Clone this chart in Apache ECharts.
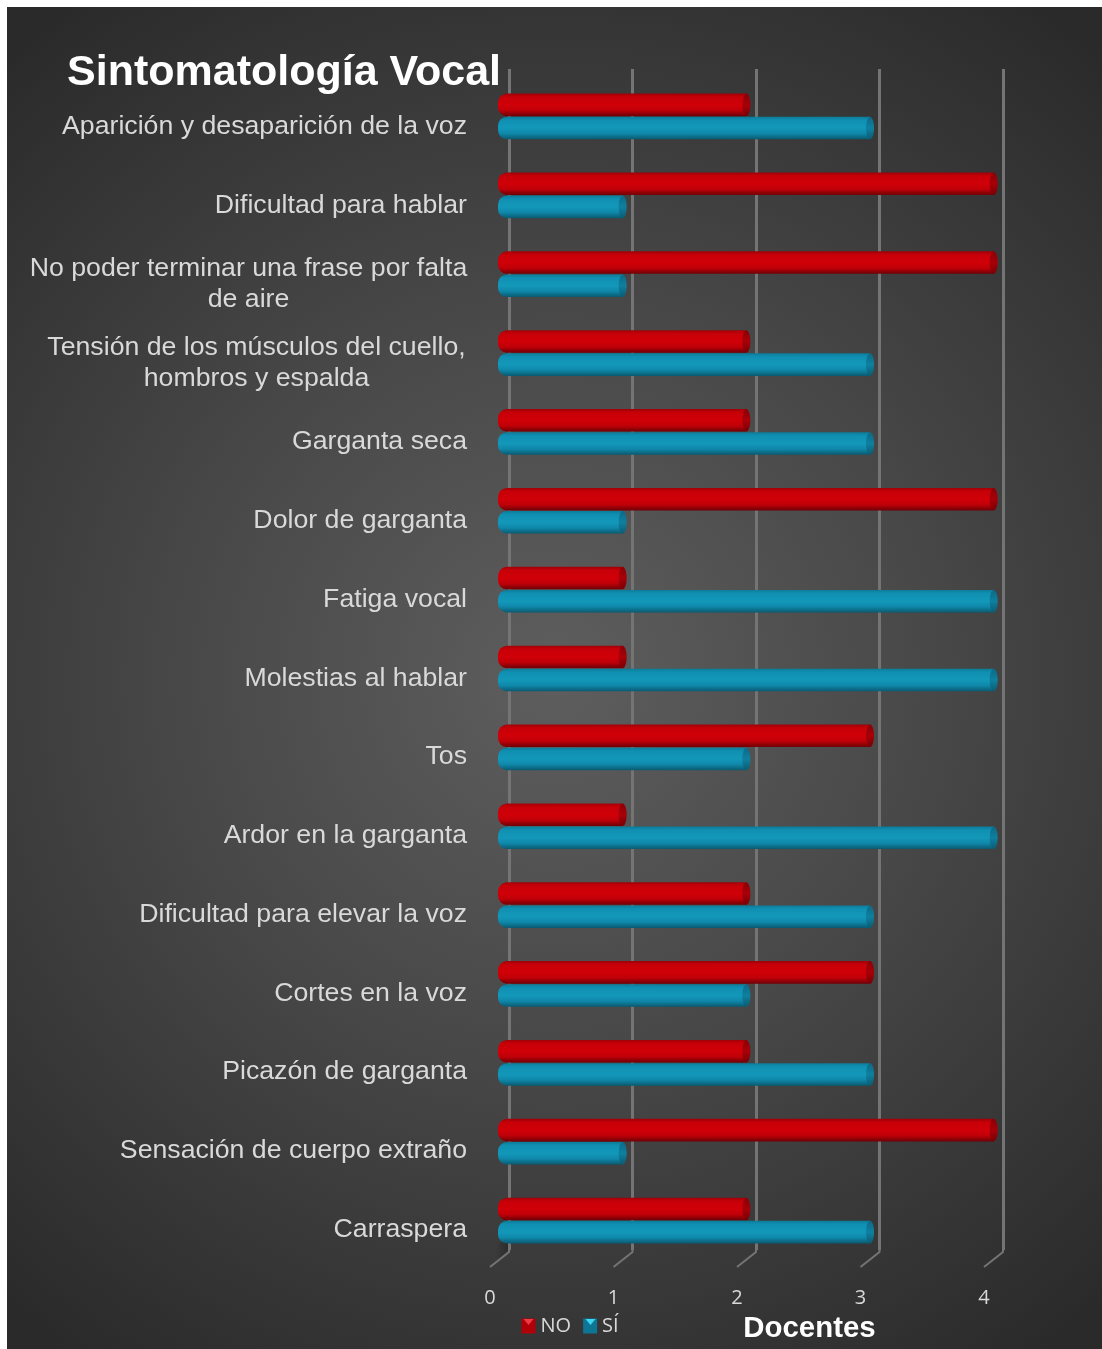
<!DOCTYPE html>
<html>
<head>
<meta charset="utf-8">
<title>Sintomatología Vocal</title>
<style>html,body{margin:0;padding:0;background:#fff}#chart{width:1102px;height:1349px}</style>
<script src="https://cdn.jsdelivr.net/npm/echarts@6/dist/echarts.min.js"></script>
</head>
<body>
<div id="chart"></div>
<script>
const categories = [
  'Aparición y desaparición de la voz',
  'Dificultad para hablar',
  'No poder terminar una frase por falta\nde aire',
  'Tensión de los músculos del cuello,\nhombros y espalda',
  'Garganta seca',
  'Dolor de garganta',
  'Fatiga vocal',
  'Molestias al hablar',
  'Tos',
  'Ardor en la garganta',
  'Dificultad para elevar la voz',
  'Cortes en la voz',
  'Picazón de garganta',
  'Sensación de cuerpo extraño',
  'Carraspera'
];
const valuesNo = [2, 4, 4, 2, 2, 4, 1, 1, 3, 1, 2, 3, 2, 4, 2];
const valuesSi = [3, 1, 1, 3, 3, 1, 4, 4, 2, 4, 3, 2, 3, 1, 3];
const tickValues = [0, 1, 2, 3, 4];

const FONT = '"Liberation Sans", Arial, sans-serif';
const TICK_FONT = '"Open Sans", "Noto Sans", sans-serif';

const redTube = {
  side: [[0, '#a00008'], [0.16, '#c80008'], [0.5, '#d00008'], [0.74, '#c00008'], [1, '#6e0006']],
  cap: [[0, '#8a0006'], [0.5, '#a80008'], [1, '#780005']]
};
const blueTube = {
  side: [[0, '#0c7c9a'], [0.16, '#1090b2'], [0.5, '#1398ba'], [0.74, '#0f88aa'], [1, '#0a5a70']],
  cap: [[0, '#0b6a86'], [0.5, '#0f80a0'], [1, '#0a5c74']]
};

function gradient(stops) {
  return new echarts.graphic.LinearGradient(0, 0, 0, 1,
    stops.map(s => ({ offset: s[0], color: s[1] })));
}

// One horizontal cylinder per row, the pair sitting either side of the band centre.
function tubeRenderer(tube, upper) {
  return function (params, api) {
    const end = api.coord([api.value(0), api.value(1)]);
    const start = api.coord([0, api.value(1)]);
    const h = api.size([0, 1])[1] * 0.286;
    const y = upper ? end[1] - h - 0.2 : end[1] + 0.4;
    const left = start[0] - 1;
    const rx = 4;
    return {
      type: 'group',
      children: [
        {
          type: 'rect',
          shape: { x: left, y: y, width: end[0] - left, height: h, r: [9, 0, 0, 9] },
          style: { fill: gradient(tube.side) }
        },
        {
          type: 'ellipse',
          shape: { cx: end[0], cy: y + h / 2, rx: rx, ry: h / 2 },
          style: { fill: gradient(tube.cap) }
        }
      ]
    };
  };
}

// Wall lines step out toward the floor at their base.
function renderFoot(params, api) {
  const top = api.coord([api.value(0), 0]);
  return {
    type: 'polyline',
    shape: { points: [[top[0], top[1]], [top[0], top[1] + 2], [top[0] - 19, top[1] + 17]] },
    style: { stroke: '#747474', lineWidth: 2, fill: null }
  };
}

const chart = echarts.init(document.getElementById('chart'), null, { renderer: 'canvas' });

chart.setOption({
  animation: false,
  backgroundColor: '#ffffff',
  graphic: [
    {
      type: 'rect',
      z: -10,
      silent: true,
      shape: { x: 7, y: 7, width: 1095, height: 1342 },
      style: {
        fill: new echarts.graphic.RadialGradient(0.5, 0.5, 0.76, [
          { offset: 0, color: '#5e5e5e' },
          { offset: 0.45, color: '#484848' },
          { offset: 1, color: '#2a2a2a' }
        ])
      }
    },
    {
      type: 'polygon',
      z: 1,
      silent: true,
      shape: { points: [[496, 1242], [508, 1242], [508, 1250], [496, 1262]] },
      style: {
        fill: new echarts.graphic.LinearGradient(1, 0, 0, 0, [
          { offset: 0, color: 'rgba(20,20,20,0.38)' },
          { offset: 1, color: 'rgba(20,20,20,0)' }
        ])
      }
    },
    // Bevel highlights on the two legend swatches
    {
      type: 'polygon', z: 20, silent: true,
      shape: { points: [[523.5, 1319], [533.5, 1319], [528.5, 1325]] },
      style: { fill: '#ee3a46' }
    },
    {
      type: 'polygon', z: 20, silent: true,
      shape: { points: [[585.5, 1319], [595.5, 1319], [590.5, 1325]] },
      style: { fill: '#3cd6f0' }
    }
  ],
  title: {
    text: 'Sintomatología Vocal',
    left: 62,
    top: 47,
    textStyle: { color: '#ffffff', fontFamily: FONT, fontWeight: 'bold', fontSize: 43 }
  },
  legend: {
    left: 521.5,
    top: 1316,
    padding: 0,
    itemWidth: 14,
    itemHeight: 15,
    itemGap: 12,
    icon: 'rect',
    data: ['NO', 'SÍ'],
    textStyle: { color: '#d9d9d9', fontFamily: TICK_FONT, fontSize: 20 }
  },
  grid: [
    { left: 509, width: 494, top: 69, height: 1181 },
    { left: 499, width: 494.7, top: 76.9, height: 1183 },
    { left: 490, width: 494, top: 87.5, height: 1181.5 }
  ],
  xAxis: [
    {
      gridIndex: 0, type: 'value', min: 0, max: 4, interval: 1,
      axisLine: { show: false }, axisTick: { show: false }, axisLabel: { show: false },
      splitLine: { show: true, lineStyle: { color: '#747474', width: 3 } }
    },
    {
      gridIndex: 1, type: 'value', min: 0, max: 4, interval: 1,
      axisLine: { show: false }, axisTick: { show: false }, axisLabel: { show: false },
      splitLine: { show: false }
    },
    {
      gridIndex: 2, type: 'value', min: 0, max: 4, interval: 1,
      axisLine: { show: false }, axisTick: { show: false }, splitLine: { show: false },
      axisLabel: {
        margin: 19, color: '#d9d9d9', fontFamily: TICK_FONT, fontSize: 20,
        formatter: v => (tickValues.includes(v) ? String(v) : '')
      },
      name: 'Docentes',
      nameLocation: 'middle',
      nameGap: 45,
      nameMoveOverlap: false,
      nameTextStyle: {
        color: '#ffffff', fontFamily: FONT, fontWeight: 'bold', fontSize: 29.4,
        padding: [0, 0, 0, 145]
      }
    }
  ],
  yAxis: [
    {
      gridIndex: 0, type: 'value', min: 0, max: 1, show: false
    },
    {
      gridIndex: 1, type: 'category', data: categories, inverse: true, show: false
    },
    {
      gridIndex: 2, type: 'category', data: categories, inverse: true,
      axisLine: { show: false }, axisTick: { show: false }, splitLine: { show: false },
      axisLabel: {
        margin: 23,
        interval: 0,
        color: '#d9d9d9',
        fontFamily: FONT,
        fontSize: 26.7,
        lineHeight: 31,
        align: 'right',
        formatter: function (text) {
          const lines = text.split('\n');
          if (lines.length === 1) return text;
          const key = lines[0].startsWith('No') ? 'wide' : 'mid';
          return lines.map(l => '{' + key + '|' + l + '}').join('\n');
        },
        rich: {
          wide: { width: 437, align: 'center', color: '#d9d9d9', fontFamily: FONT, fontSize: 26.7, lineHeight: 31 },
          mid: { width: 421, align: 'center', color: '#d9d9d9', fontFamily: FONT, fontSize: 26.7, lineHeight: 31 }
        }
      }
    }
  ],
  series: [
    {
      name: 'pies',
      type: 'custom',
      xAxisIndex: 0,
      yAxisIndex: 0,
      silent: true,
      z: 1,
      renderItem: renderFoot,
      encode: { x: 0 },
      data: tickValues.map(v => [v])
    },
    {
      name: 'NO',
      type: 'custom',
      xAxisIndex: 1,
      yAxisIndex: 1,
      z: 3,
      itemStyle: { color: '#b00008' },
      renderItem: tubeRenderer(redTube, true),
      encode: { x: 0, y: 1 },
      data: valuesNo.map((v, i) => [v, i])
    },
    {
      name: 'SÍ',
      type: 'custom',
      xAxisIndex: 1,
      yAxisIndex: 1,
      z: 3,
      itemStyle: { color: '#0f7595' },
      renderItem: tubeRenderer(blueTube, false),
      encode: { x: 0, y: 1 },
      data: valuesSi.map((v, i) => [v, i])
    }
  ]
});
</script>
</body>
</html>
